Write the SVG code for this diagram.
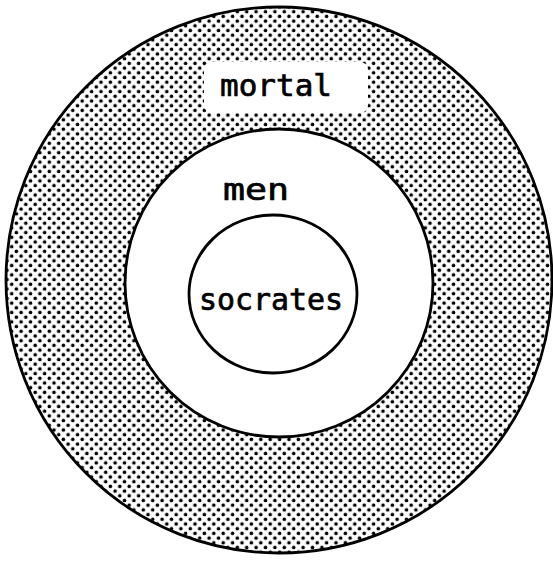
<svg xmlns="http://www.w3.org/2000/svg" width="553" height="566" viewBox="0 0 553 566">
<defs>
<pattern id="dots" x="0" y="0" width="9.4" height="9.4" patternUnits="userSpaceOnUse">
<rect width="9.4" height="9.4" fill="#fff"/>
<circle cx="2.3" cy="2.3" r="1.8" fill="#000"/>
<circle cx="7" cy="7" r="1.8" fill="#000"/>
</pattern>
</defs>
<style>
.ln{stroke:#000;stroke-width:2.8}
.lbl{font-family:"DejaVu Sans Mono","Liberation Mono",monospace;font-size:30px;fill:#000;stroke:#000;stroke-width:0.7}
</style>
<rect width="553" height="566" fill="#fff"/>
<g id="mortal">
<circle cx="279" cy="280" r="273" fill="url(#dots)" class="ln" stroke-width="3.2"/>
<rect x="204" y="62" width="164" height="51" rx="8" fill="#fff"/>
<text class="lbl" x="276" y="96" text-anchor="middle" textLength="112" lengthAdjust="spacingAndGlyphs">mortal</text>
</g>
<g id="men">
<circle cx="279" cy="283" r="154" fill="#fff" class="ln"/>
<text class="lbl" x="256" y="200" text-anchor="middle" textLength="66" lengthAdjust="spacingAndGlyphs">men</text>
</g>
<g id="socrates">
<ellipse cx="273" cy="294" rx="84" ry="79" fill="#fff" class="ln"/>
<text class="lbl" x="271" y="310" text-anchor="middle" textLength="144" lengthAdjust="spacingAndGlyphs">socrates</text>
</g>
<g id="connectors"/>
</svg>
